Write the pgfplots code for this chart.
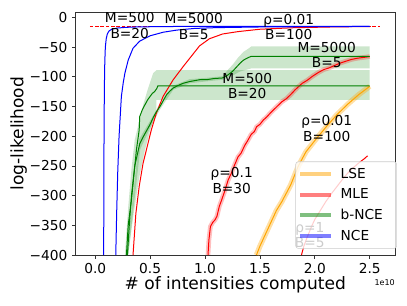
\documentclass[border=0pt]{standalone}
\usepackage{pgfplots}
\pgfplotsset{compat=1.18}
\usepgfplotslibrary{fillbetween}
\usepackage{fontspec}
\setmainfont{DejaVu Sans}
\definecolor{mblue}{RGB}{0,0,255}
\definecolor{mred}{RGB}{255,0,0}
\definecolor{mgreen}{RGB}{0,128,0}
\definecolor{morange}{RGB}{255,165,0}
\begin{document}
\begin{tikzpicture}
\begin{axis}[name=ax, at={(0pt,0pt)}, anchor=south west,
  scale only axis, width=239.6pt, height=182.25pt,
  xmin=-0.18, xmax=2.73, ymin=-400, ymax=9,
  axis line style={black!80, line width=0.7pt},
  tick align=outside, major tick length=2.6pt,
  tick style={black!80, line width=0.6pt},
  xtick={0,0.5,1,1.5,2,2.5}, xticklabels={0.0,0.5,1.0,1.5,2.0,2.5},
  ytick={-400,-350,-300,-250,-200,-150,-100,-50,0},
  yticklabels={−400,−350,−300,−250,−200,−150,−100,−50,0},
  xtick pos=bottom, ytick pos=left,
  ticklabel style={font=\fontsize{10.3}{11}\selectfont},
  xlabel={\# of intensities computed}, ylabel={log-likelihood},
  label style={font=\fontsize{12.8}{14}\selectfont},
  xlabel style={at={(axis description cs:0.5,-0.121)}, anchor=center},
  ylabel style={at={(axis description cs:-0.178,0.5)}, anchor=center},
  legend style={at={(rel axis cs:1.006,0.026)}, anchor=south east,
    draw=black!20, rounded corners=2pt, fill=white, fill opacity=0.8,
    text opacity=1, draw opacity=1, font=\fontsize{10.3}{11}\selectfont,
    row sep=2.4pt, inner xsep=2pt, inner ysep=2.6pt},
  legend cell align=left,
  legend image code/.code={\draw[#1, line width=3pt, opacity=0.5] (0pt,0pt) -- (23pt,0pt); \path (28pt,0pt);},
]
% true log-likelihood
\addplot[mred, dashed, dash pattern=on 2.8pt off 1.2pt, line width=0.75pt, forget plot] coordinates {(-0.05,-15) (2.59,-15)};

% LSE rho=0.01 B=100
\addplot[morange, opacity=0.35, line width=4pt, forget plot] coordinates {
(1.468,-400) (1.50,-385) (1.55,-365) (1.60,-345) (1.65,-325) (1.70,-310) (1.78,-282) (1.85,-250) (1.92,-226) (2.01,-205) (2.10,-185) (2.20,-164) (2.30,-146) (2.40,-130) (2.50,-116)};
\addplot[morange, line width=0.75pt, forget plot] coordinates {
(1.468,-400) (1.50,-385) (1.55,-365) (1.60,-345) (1.65,-325) (1.70,-310) (1.78,-282) (1.85,-250) (1.92,-226) (2.01,-205) (2.10,-185) (2.20,-164) (2.30,-146) (2.40,-130) (2.50,-116)};

% MLE rho=0.01 B=100
\addplot[mred, line width=0.75pt, forget plot] coordinates {
(0.344,-400) (0.37,-330) (0.40,-285) (0.435,-246) (0.51,-190) (0.557,-161) (0.618,-133) (0.71,-105) (0.80,-83) (0.89,-62) (0.95,-48) (1.04,-36) (1.16,-28) (1.30,-24) (1.50,-20) (1.80,-17.5) (2.20,-16) (2.50,-15.5)};
% MLE rho=0.1 B=30
\addplot[mred, opacity=0.25, line width=3.5pt, forget plot] coordinates {
(1.027,-400) (1.035,-375) (1.049,-352) (1.07,-345) (1.09,-341) (1.108,-335) (1.13,-318) (1.15,-308) (1.18,-292) (1.21,-274) (1.24,-262) (1.27,-248) (1.30,-235) (1.33,-228) (1.36,-216) (1.39,-207) (1.42,-197) (1.45,-192) (1.47,-184) (1.50,-180) (1.53,-173) (1.56,-168) (1.60,-160) (1.65,-151) (1.70,-142) (1.74,-137) (1.78,-130) (1.82,-122) (1.885,-111) (1.93,-106) (1.98,-99) (2.03,-93) (2.08,-88) (2.13,-85) (2.18,-81) (2.23,-77) (2.28,-74) (2.33,-71) (2.38,-69) (2.42,-68) (2.46,-67) (2.50,-66)};
\addplot[mred, line width=0.75pt, forget plot] coordinates {
(1.027,-400) (1.035,-375) (1.049,-352) (1.07,-345) (1.09,-341) (1.108,-335) (1.13,-318) (1.15,-308) (1.18,-292) (1.21,-274) (1.24,-262) (1.27,-248) (1.30,-235) (1.33,-228) (1.36,-216) (1.39,-207) (1.42,-197) (1.45,-192) (1.47,-184) (1.50,-180) (1.53,-173) (1.56,-168) (1.60,-160) (1.65,-151) (1.70,-142) (1.74,-137) (1.78,-130) (1.82,-122) (1.885,-111) (1.93,-106) (1.98,-99) (2.03,-93) (2.08,-88) (2.13,-85) (2.18,-81) (2.23,-77) (2.28,-74) (2.33,-71) (2.38,-69) (2.42,-68) (2.46,-67) (2.50,-66)};
% MLE rho=1 B=5
\addplot[mred, line width=0.75pt, forget plot] coordinates {
(1.878,-400) (1.90,-385) (1.93,-370) (1.97,-352) (2.00,-340) (2.05,-325) (2.10,-310) (2.15,-297) (2.20,-285) (2.25,-273) (2.30,-262) (2.35,-253) (2.40,-245) (2.45,-238) (2.48,-233)};

% b-NCE M=500 B=20 band
\addplot[name path=u1, draw=none, forget plot] coordinates {
(0.27,-400) (0.30,-320) (0.33,-255) (0.36,-206) (0.40,-175) (0.44,-145) (0.48,-120) (0.527,-94) (0.557,-89) (2.50,-89)};
\addplot[name path=l1, draw=none, forget plot] coordinates {
(0.30,-400) (0.35,-330) (0.40,-270) (0.45,-225) (0.50,-190) (0.555,-160) (0.557,-139) (2.50,-139)};
\addplot[mgreen, fill opacity=0.2, forget plot] fill between[of=u1 and l1];
% b-NCE M=5000 B=5 band
\addplot[name path=u2, draw=none, forget plot] coordinates {
(0.285,-400) (0.40,-205) (0.50,-174) (0.59,-145) (0.71,-115) (0.86,-104) (1.00,-102) (1.16,-99) (1.20,-90) (1.25,-80) (1.30,-68) (1.35,-58) (1.40,-52) (1.42,-49) (2.50,-49)};
\addplot[name path=l2, draw=none, forget plot] coordinates {
(0.30,-400) (0.41,-222) (0.50,-186) (0.59,-155) (0.71,-122) (0.86,-111) (1.00,-108) (1.16,-105) (1.25,-98) (1.32,-91) (1.42,-86) (2.50,-86)};
\addplot[mgreen, fill opacity=0.2, forget plot] fill between[of=u2 and l2];
% b-NCE means
\addplot[mgreen, line width=0.75pt, forget plot] coordinates {
(0.284,-400) (0.30,-350) (0.33,-307) (0.355,-260) (0.375,-223) (0.40,-190) (0.405,-167) (0.43,-155) (0.45,-148) (0.48,-138) (0.50,-133) (0.52,-128) (0.54,-125) (0.56,-120) (0.57,-115.5) (2.50,-115.5)};
\addplot[mgreen, line width=0.75pt, forget plot] coordinates {
(0.293,-400) (0.31,-350) (0.33,-300) (0.36,-250) (0.405,-213) (0.44,-200) (0.47,-190) (0.50,-180) (0.53,-168) (0.56,-158) (0.59,-150) (0.62,-140) (0.65,-130) (0.68,-124) (0.71,-119) (0.75,-115) (0.80,-111) (0.86,-108) (0.95,-105) (1.01,-105) (1.08,-103) (1.16,-102) (1.20,-98) (1.25,-91) (1.28,-85) (1.32,-77) (1.35,-72) (1.38,-69) (1.42,-65.5) (2.50,-65.5)};

% NCE
\addplot[mblue, line width=0.75pt, forget plot] coordinates {
(0.077,-400) (0.078,-300) (0.080,-200) (0.083,-120) (0.087,-75) (0.092,-50) (0.100,-36) (0.110,-28) (0.125,-23) (0.150,-20) (0.200,-18) (0.280,-16.8) (0.400,-16) (0.700,-15.4) (1.200,-15.2) (2.500,-15.1)};
\addplot[mblue, line width=0.75pt, forget plot] coordinates {
(0.187,-400) (0.195,-330) (0.205,-260) (0.217,-200) (0.238,-133) (0.255,-110) (0.27,-94) (0.30,-72) (0.344,-52) (0.405,-40) (0.50,-31) (0.62,-25) (0.74,-21.5) (0.90,-18.7) (1.10,-17.3) (1.50,-16.2) (2.00,-15.6) (2.50,-15.3)};

% annotations
\begin{scope}[every node/.style={align=center, font=\fontsize{10.3}{11.6}\selectfont, inner sep=0pt}]
\node at (axis cs:0.314,-13.6) {M=500\\B=20};
\node at (axis cs:0.897,-15.3) {M=5000\\B=5};
\node at (axis cs:1.762,-16.2) {ρ=0.01\\B=100};
\node at (axis cs:2.108,-63.3) {M=5000\\B=5};
\node at (axis cs:1.384,-115.5) {M=500\\B=20};
\node at (axis cs:2.108,-187) {ρ=0.01\\B=100};
\node at (axis cs:1.243,-274.6) {ρ=0.1\\B=30};
\node at (axis cs:1.954,-366) {ρ=1\\B=5};
\end{scope}

\addlegendimage{morange}\addlegendentry{\makebox[38pt][l]{LSE}}
\addlegendimage{mred}\addlegendentry{\makebox[38pt][l]{MLE}}
\addlegendimage{mgreen}\addlegendentry{\makebox[38pt][l]{b-NCE}}
\addlegendimage{mblue}\addlegendentry{\makebox[38pt][l]{NCE}}
\end{axis}
\node[anchor=east, font=\fontsize{6}{7}\selectfont, inner sep=0pt] at (239.6pt,-20.5pt) {1e10};
\path (-56.6pt,-37.5pt) rectangle (248.6pt,191.25pt);
\end{tikzpicture}
\end{document}
